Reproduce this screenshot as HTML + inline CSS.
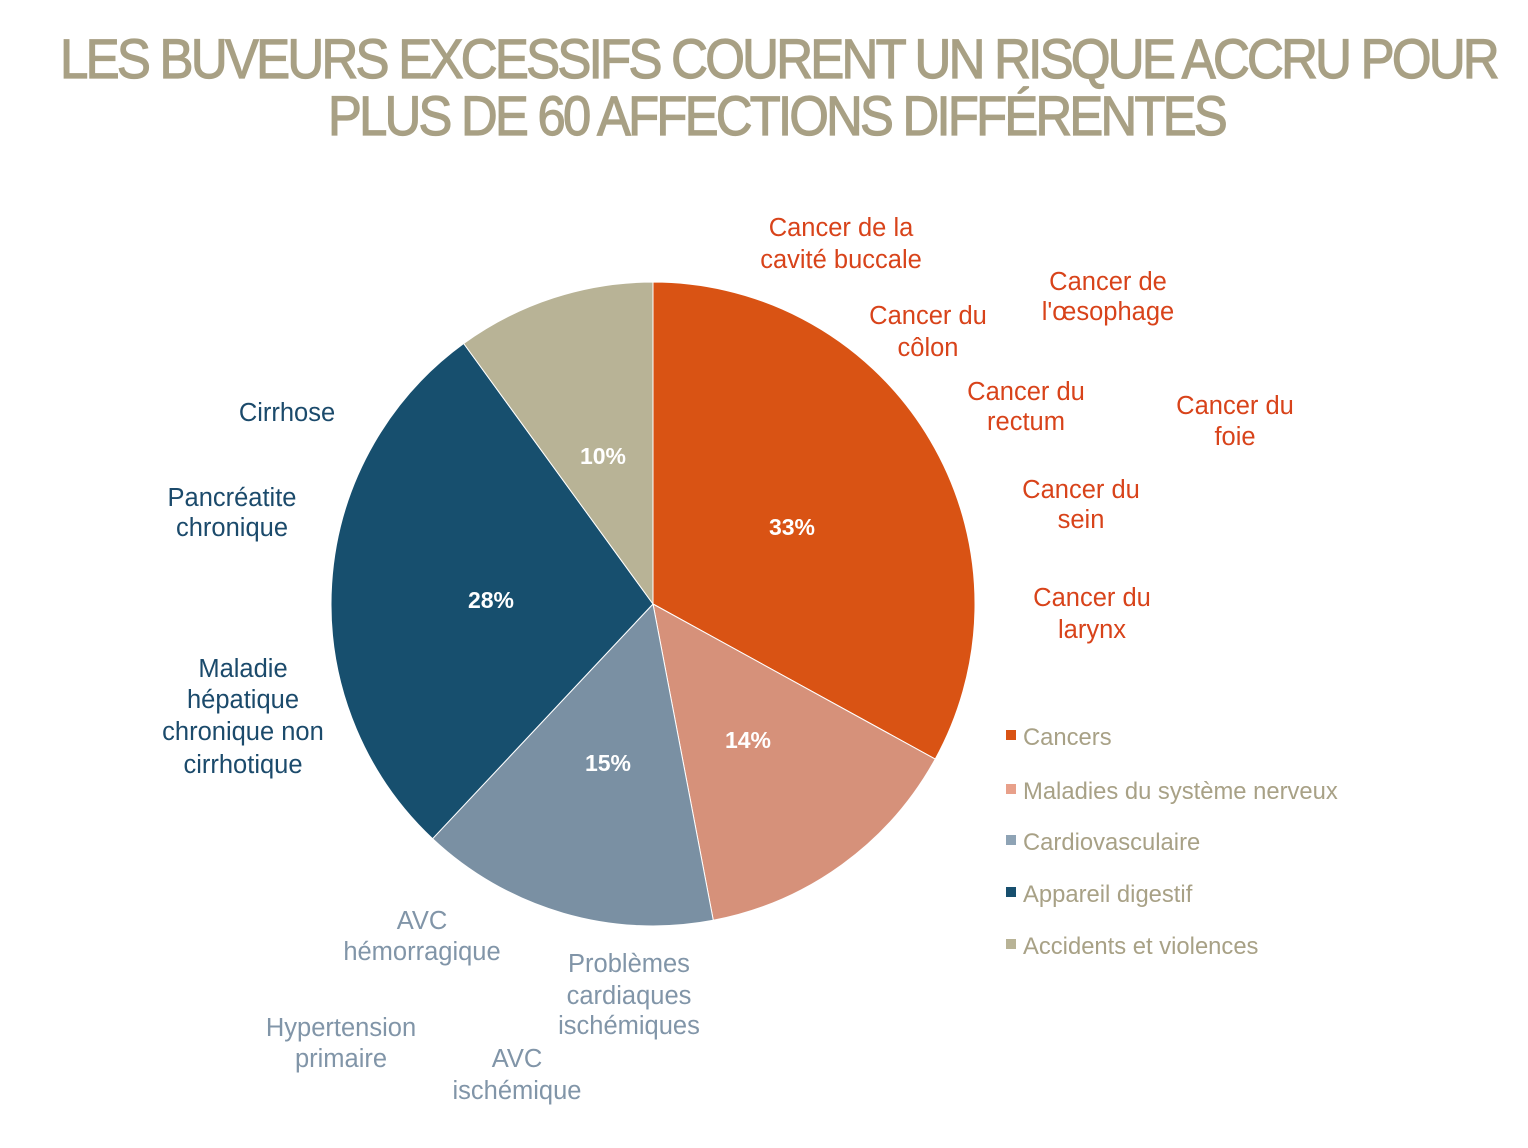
<!DOCTYPE html>
<html><head><meta charset="utf-8"><style>
html,body{margin:0;padding:0;background:#fff;}
svg{display:block;}
text{font-family:"Liberation Sans",Arial,sans-serif;}
</style></head><body>
<svg width="1528" height="1148" viewBox="0 0 1528 1148" xmlns="http://www.w3.org/2000/svg">
<g fill="#A8A084" stroke="#A8A084" stroke-width="1.2" font-size="56" letter-spacing="-3">
<text x="60" y="78" textLength="1437" lengthAdjust="spacingAndGlyphs">LES BUVEURS EXCESSIFS COURENT UN RISQUE ACCRU POUR</text>
<text x="328" y="135" textLength="897" lengthAdjust="spacingAndGlyphs">PLUS DE 60 AFFECTIONS DIFFÉRENTES</text>
</g>
<g stroke="#fff" stroke-width="1">
<path d="M653,604 L653,282 A322,322 0 0 1 935.2,759.1 Z" fill="#D95314"/>
<path d="M653,604 L935.2,759.1 A322,322 0 0 1 713.3,920.3 Z" fill="#D6917A"/>
<path d="M653,604 L713.3,920.3 A322,322 0 0 1 432.6,838.7 Z" fill="#7A90A3"/>
<path d="M653,604 L432.6,838.7 A322,322 0 0 1 463.7,343.5 Z" fill="#174F6E"/>
<path d="M653,604 L463.7,343.5 A322,322 0 0 1 653,282 Z" fill="#B8B396"/>
</g>
<g fill="#fff" font-size="23" font-weight="bold" text-anchor="middle">
<text x="792" y="535">33%</text>
<text x="748" y="748">14%</text>
<text x="608" y="771">15%</text>
<text x="491" y="608">28%</text>
<text x="603" y="464">10%</text>
</g>
<g fill="#D8431A" font-size="25.5" text-anchor="middle">
<text x="841" y="236">Cancer de la</text><text x="841" y="268">cavité buccale</text>
<text x="1108" y="290">Cancer de</text><text x="1108" y="320">l'œsophage</text>
<text x="928" y="324">Cancer du</text><text x="928" y="356">côlon</text>
<text x="1026" y="400">Cancer du</text><text x="1026" y="430">rectum</text>
<text x="1235" y="414">Cancer du</text><text x="1235" y="445">foie</text>
<text x="1081" y="498">Cancer du</text><text x="1081" y="528">sein</text>
<text x="1092" y="606">Cancer du</text><text x="1092" y="638">larynx</text>
</g>
<g fill="#1B4A6B" font-size="25.5" text-anchor="middle">
<text x="287" y="421">Cirrhose</text>
<text x="232" y="506">Pancréatite</text><text x="232" y="536">chronique</text>
<text x="243" y="677">Maladie</text><text x="243" y="708">hépatique</text><text x="243" y="740">chronique non</text><text x="243" y="773">cirrhotique</text>
</g>
<g fill="#8195A8" font-size="25.5" text-anchor="middle">
<text x="422" y="929">AVC</text><text x="422" y="960">hémorragique</text>
<text x="629" y="972">Problèmes</text><text x="629" y="1004">cardiaques</text><text x="629" y="1034">ischémiques</text>
<text x="341" y="1036">Hypertension</text><text x="341" y="1067">primaire</text>
<text x="517" y="1067">AVC</text><text x="517" y="1099">ischémique</text>
</g>
<g font-size="23.8" fill="#A8A186">
<rect x="1006" y="730" width="10" height="10" fill="#D95314"/><text x="1023" y="745">Cancers</text>
<rect x="1006" y="784" width="10" height="10" fill="#E8A08A"/><text x="1023" y="799">Maladies du système nerveux</text>
<rect x="1006" y="835" width="10" height="10" fill="#8EA3B5"/><text x="1023" y="850">Cardiovasculaire</text>
<rect x="1006" y="887" width="10" height="10" fill="#174F6E"/><text x="1023" y="902">Appareil digestif</text>
<rect x="1006" y="939" width="10" height="10" fill="#B8B396"/><text x="1023" y="954">Accidents et violences</text>
</g>
</svg>
</body></html>
